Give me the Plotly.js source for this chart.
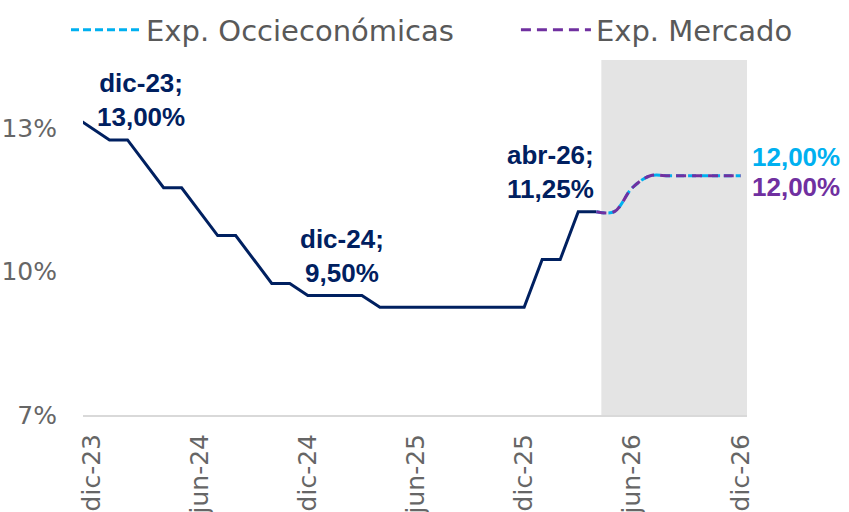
<!DOCTYPE html>
<html>
<head>
<meta charset="utf-8">
<script src="https://cdn.plot.ly/plotly-3.0.1.min.js"></script>
<style>html,body{margin:0;padding:0;background:#fff;}#chart{width:849px;height:512px;}</style>
</head>
<body>
<div id="chart"></div>
<script>
// Months (category axis)
const months = ['nov-23','dic-23','ene-24','feb-24','mar-24','abr-24','may-24','jun-24','jul-24','ago-24','sep-24','oct-24','nov-24','dic-24',
  'ene-25','feb-25','mar-25','abr-25','may-25','jun-25','jul-25','ago-25','sep-25','oct-25','nov-25','dic-25',
  'ene-26','feb-26','mar-26','abr-26','may-26','jun-26','jul-26','ago-26','sep-26','oct-26','nov-26','dic-26'];

// Observed policy rate (nov-23 .. abr-26)
const histMonths = months.slice(0, 30);
const policyRate = [13.25, 13.00, 12.75, 12.75, 12.25, 11.75, 11.75, 11.25, 10.75, 10.75, 10.25, 9.75, 9.75, 9.50,
  9.50, 9.50, 9.50, 9.25, 9.25, 9.25, 9.25, 9.25, 9.25, 9.25, 9.25, 9.25, 10.25, 10.25, 11.25, 11.25];

// Expectations (abr-26 .. dic-26)
const fcMonths = months.slice(29);
const expOcci = [11.25, 11.25, 11.75, 12.00, 12.00, 12.00, 12.00, 12.00, 12.00];
const expMercado = [11.25, 11.25, 11.75, 12.00, 12.00, 12.00, 12.00, 12.00, 12.00];

// Axis ticks
const xTickVals = ['dic-23','jun-24','dic-24','jun-25','dic-25','jun-26','dic-26'];
const yTickVals = [7, 10, 13];
const yTickText = ['7%', '10%', '13%'];

// Shaded forecast window (value bounds)
const bandX = [29.28, 37.36];
const bandY = [7, 14.42];

const NAVY = '#002060', CYAN = '#00B0F0', PURPLE = '#7030A0', GRAY = '#666666';
const REG = 'DejaVu Sans, sans-serif';
const BOLD = 'Liberation Sans, Arial, sans-serif';

const traces = [
  {x: histMonths, y: policyRate, type: 'scatter', mode: 'lines', showlegend: false,
   line: {color: NAVY, width: 3}, hoverinfo: 'skip'},
  {x: fcMonths, y: expOcci, type: 'scatter', mode: 'lines', name: 'Exp. Occieconómicas', legend: 'legend',
   line: {color: CYAN, width: 3, dash: '8px,4px', shape: 'spline', smoothing: 1}},
  {x: fcMonths, y: expMercado, type: 'scatter', mode: 'lines', name: 'Exp. Mercado', legend: 'legend2',
   line: {color: PURPLE, width: 3, dash: '10px,6px', shape: 'spline', smoothing: 1}}
];

const lblFont = {family: BOLD, size: 26, color: NAVY, weight: 'bold'};
const iHist = (m) => policyRate[histMonths.indexOf(m)];
const last = expOcci.length - 1;
const legFont = {family: REG, size: 29, color: '#595959'};

const layout = {
  width: 849, height: 512,
  margin: {l: 83, r: 102, t: 0, b: 97},
  paper_bgcolor: '#fff', plot_bgcolor: 'rgba(0,0,0,0)',
  showlegend: true,
  legend: {orientation: 'h', x: -0.0256, xanchor: 'left', y: 0.9277, yanchor: 'middle', itemwidth: 70,
    font: legFont, bgcolor: 'rgba(0,0,0,0)'},
  legend2: {orientation: 'h', x: 0.652, xanchor: 'left', y: 0.9277, yanchor: 'middle', itemwidth: 70,
    font: legFont, bgcolor: 'rgba(0,0,0,0)'},
  xaxis: {type: 'category', categoryorder: 'array', categoryarray: months,
    range: [0.53, 37.36], tickmode: 'array', tickvals: xTickVals, ticktext: xTickVals,
    tickangle: -90, showgrid: false, zeroline: false, showline: true, linecolor: '#D9D9D9', linewidth: 2,
    ticks: '', ticklabelstandoff: 7, automargin: false,
    tickfont: {family: REG, size: 25, color: GRAY}},
  yaxis: {range: [7, 15.674], tickmode: 'array', tickvals: yTickVals, ticktext: yTickText,
    showgrid: false, zeroline: false, showline: false, ticks: '', ticklabelstandoff: 25, automargin: false,
    tickfont: {family: REG, size: 25, color: GRAY}},
  shapes: [{type: 'rect', xref: 'x', yref: 'y', x0: bandX[0], x1: bandX[1], y0: bandY[0], y1: bandY[1],
    fillcolor: '#E4E4E4', line: {width: 0}, layer: 'below'}],
  annotations: [
    {x: 'dic-23', y: iHist('dic-23'), text: 'dic-23;<br>13,00%', showarrow: false, xshift: 50, yshift: 28, font: lblFont},
    {x: 'dic-24', y: iHist('dic-24'), text: 'dic-24;<br>9,50%', showarrow: false, xshift: 34, yshift: 39, font: lblFont},
    {x: 'abr-26', y: iHist('abr-26'), text: 'abr-26;<br>11,25%', showarrow: false, xshift: -46, yshift: 40, font: lblFont},
    {x: fcMonths[last], y: expOcci[last], text: '12,00%', showarrow: false, xshift: 55, yshift: 19,
      font: {family: BOLD, size: 26, color: CYAN, weight: 'bold'}},
    {x: fcMonths[last], y: expMercado[last], text: '12,00%', showarrow: false, xshift: 55, yshift: -11,
      font: {family: BOLD, size: 26, color: PURPLE, weight: 'bold'}}
  ]
};

Plotly.newPlot('chart', traces, layout, {displayModeBar: false, staticPlot: true});
</script>
</body>
</html>
